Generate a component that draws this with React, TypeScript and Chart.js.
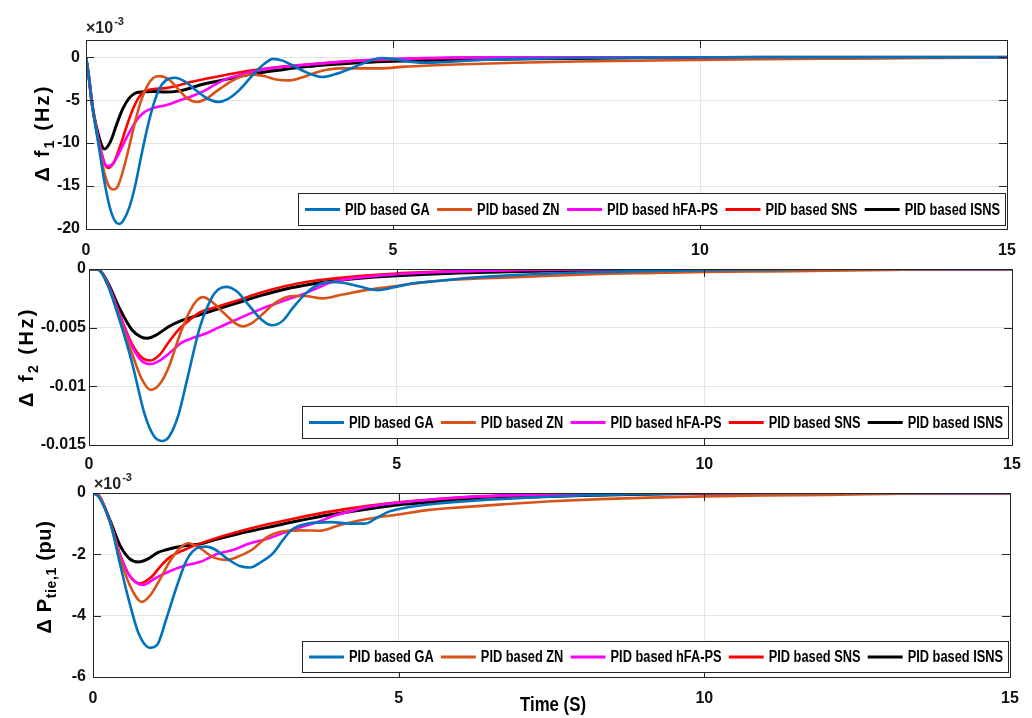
import React, { useEffect, useRef } from "react";
import { Chart, registerables } from "chart.js";

Chart.register(...registerables);

// ---------- Series meta ----------
const SERIES_NAMES = ["PID based GA", "PID based ZN", "PID based hFA-PS", "PID based SNS", "PID based ISNS"];
const SERIES_COLORS = ["#0072BD", "#D95319", "#FF00FF", "#FF0000", "#000000"];

// ---------- Axis ticks ----------
const X_TICKS = [0, 5, 10, 15];
const Y1_TICKS = [-20, -15, -10, -5, 0];
const Y2_TICKS = [-0.015, -0.01, -0.005, 0];
const Y2_TICK_LABELS = ["-0.015", "-0.01", "-0.005", "0"];
const Y3_TICKS = [-6, -4, -2, 0];

// ---------- Plot 1: delta f1 (x10^-3 Hz) ----------
const GA1_T = [0, 0.05, 0.1, 0.2, 0.3, 0.4, 0.5, 0.55, 0.6, 0.7, 0.8, 0.9, 1.0, 1.1, 1.2, 1.3, 1.45, 1.6, 1.8, 2.0, 2.15, 2.3, 2.5, 2.7, 2.9, 3.05, 3.2, 3.4, 3.6, 3.85, 4.05, 4.25, 4.45, 4.65, 4.8, 5.0, 5.3, 5.6, 6.0, 6.5, 7.0, 8.0, 9.0, 10.0, 15.0];
const GA1_V = [0, -2.5, -5.5, -10, -14.5, -17.8, -19.3, -19.4, -19.1, -17.6, -15, -11.5, -8.2, -5.5, -3.6, -2.7, -2.4, -2.8, -3.9, -4.9, -5.2, -4.9, -3.8, -2.2, -0.8, -0.2, -0.4, -1.1, -1.8, -2.3, -2.0, -1.5, -0.9, -0.35, -0.1, -0.2, -0.55, -0.65, -0.5, -0.3, -0.2, -0.1, -0.05, 0, 0];
const ZN1_T = [0, 0.05, 0.1, 0.2, 0.3, 0.38, 0.45, 0.52, 0.6, 0.7, 0.8, 0.9, 1.0, 1.1, 1.2, 1.35, 1.5, 1.65, 1.8, 1.95, 2.1, 2.3, 2.5, 2.7, 2.9, 3.1, 3.3, 3.5, 3.7, 3.9, 4.1, 4.5, 4.8, 5.2, 5.5, 6, 7, 8, 9, 10, 11, 12, 13, 14, 15];
const ZN1_V = [0, -2.5, -5.5, -9.8, -13.5, -15.1, -15.4, -15.0, -13.3, -10.5, -7.5, -5.0, -3.3, -2.4, -2.2, -2.6, -3.7, -4.8, -5.2, -4.9, -4.1, -3.1, -2.3, -2.0, -2.2, -2.6, -2.7, -2.4, -1.9, -1.5, -1.3, -1.3, -1.3, -1.1, -1.0, -0.85, -0.65, -0.5, -0.42, -0.32, -0.23, -0.18, -0.15, -0.08, 0];
const HFA1_T = [0, 0.05, 0.1, 0.2, 0.3, 0.36, 0.45, 0.55, 0.65, 0.75, 0.85, 0.95, 1.1, 1.3, 1.5, 1.7, 1.9, 2.1, 2.3, 2.5, 2.7, 3.0, 3.4, 3.8, 4.2, 4.6, 5.0, 5.5, 6.0, 7.0, 8.0, 15];
const HFA1_V = [0, -2.5, -5.5, -9.5, -12.3, -12.7, -12.3, -11, -9.5, -8.2, -7.1, -6.4, -5.9, -5.6, -5.1, -4.6, -4.0, -3.2, -2.5, -2.1, -1.7, -1.3, -1.0, -0.75, -0.52, -0.33, -0.2, -0.1, -0.05, 0, 0, 0];
const SNS1_T = [0, 0.05, 0.1, 0.2, 0.3, 0.36, 0.45, 0.55, 0.65, 0.75, 0.85, 0.95, 1.1, 1.3, 1.5, 1.7, 2.0, 2.4, 2.8, 3.2, 3.6, 4.0, 4.5, 5.0, 5.5, 6.0, 7.0, 8.0, 15];
const SNS1_V = [0, -2.5, -5.5, -9.5, -12.3, -12.9, -12.3, -10.5, -8.3, -6.3, -4.8, -4.0, -3.7, -3.6, -3.3, -2.9, -2.45, -1.9, -1.45, -1.1, -0.85, -0.62, -0.4, -0.25, -0.15, -0.08, -0.02, 0, 0];
const ISNS1_T = [0, 0.05, 0.1, 0.2, 0.3, 0.4, 0.5, 0.6, 0.7, 0.8, 0.9, 1.1, 1.3, 1.5, 1.7, 1.9, 2.1, 2.4, 2.8, 3.2, 3.6, 4.0, 4.5, 5.0, 5.5, 6.0, 7.0, 8.0, 9.0, 10.0, 11.0, 15];
const ISNS1_V = [0, -2.5, -5.5, -9, -10.7, -9.8, -7.8, -6.0, -4.8, -4.2, -4.05, -4.0, -4.05, -3.95, -3.6, -3.15, -2.85, -2.4, -1.85, -1.45, -1.1, -0.85, -0.62, -0.47, -0.38, -0.3, -0.22, -0.14, -0.08, -0.04, 0, 0];

// ---------- Plot 2: delta f2 (Hz) ----------
const GA2_T = [0, 0.15, 0.3, 0.5, 0.7, 0.9, 1.05, 1.19, 1.3, 1.45, 1.6, 1.8, 2.0, 2.1, 2.23, 2.4, 2.6, 2.8, 2.98, 3.15, 3.3, 3.52, 3.74, 3.95, 4.15, 4.4, 4.7, 5.0, 5.3, 5.7, 6.2, 7, 8, 9, 10, 11, 12, 15];
const GA2_V = [0, -0.00005, -0.0013, -0.0044, -0.008, -0.0123, -0.0142, -0.01466, -0.0143, -0.0125, -0.0093, -0.005, -0.0024, -0.00175, -0.00152, -0.0019, -0.0031, -0.0043, -0.0048, -0.0044, -0.0034, -0.0021, -0.0013, -0.0011, -0.0012, -0.0015, -0.0018, -0.0015, -0.0012, -0.001, -0.00075, -0.0005, -0.0003, -0.00018, -0.0001, -0.00005, 0, 0];
const ZN2_T = [0, 0.15, 0.3, 0.5, 0.7, 0.85, 1.0, 1.15, 1.3, 1.45, 1.6, 1.75, 1.85, 2.0, 2.2, 2.4, 2.5, 2.65, 2.85, 3.05, 3.3, 3.5, 3.8, 4.1, 4.5, 5.0, 5.5, 6.0, 6.7, 7.5, 8.3, 9, 10, 11, 12, 13, 14, 15];
const ZN2_V = [0, -0.00005, -0.0013, -0.0043, -0.0072, -0.0093, -0.0103, -0.0098, -0.0083, -0.006, -0.004, -0.0027, -0.0024, -0.0028, -0.0038, -0.0047, -0.0049, -0.0046, -0.0037, -0.0028, -0.0023, -0.0023, -0.0025, -0.0022, -0.0018, -0.00145, -0.0011, -0.0009, -0.00075, -0.00058, -0.00043, -0.00035, -0.00026, -0.0002, -0.00015, -0.00008, 0, 0];
const HFA2_T = [0, 0.15, 0.3, 0.5, 0.7, 0.85, 1.0, 1.15, 1.3, 1.5, 1.7, 1.9, 2.1, 2.4, 2.8, 3.2, 3.5, 3.7, 3.9, 4.1, 4.5, 5.0, 5.5, 6.0, 7.0, 8.0, 9.0, 15];
const HFA2_V = [0, -0.00005, -0.0012, -0.004, -0.0066, -0.0078, -0.0081, -0.0078, -0.0072, -0.0063, -0.00585, -0.0055, -0.005, -0.0043, -0.0034, -0.00265, -0.0021, -0.00165, -0.0012, -0.00095, -0.00068, -0.00045, -0.0003, -0.0002, -0.00008, -0.00002, 0, 0];
const SNS2_T = [0, 0.15, 0.3, 0.5, 0.7, 0.85, 1.0, 1.15, 1.3, 1.45, 1.6, 1.8, 2.1, 2.4, 2.8, 3.2, 3.6, 4.0, 4.5, 5.0, 5.5, 6.0, 7.0, 8.0, 9.0, 15];
const SNS2_V = [0, -0.00005, -0.0012, -0.0039, -0.0064, -0.0075, -0.0078, -0.0073, -0.0062, -0.0052, -0.0045, -0.0037, -0.0032, -0.0027, -0.002, -0.00145, -0.00105, -0.0008, -0.00055, -0.00038, -0.00027, -0.00018, -0.00008, -0.00003, 0, 0];
const ISNS2_T = [0, 0.15, 0.3, 0.5, 0.7, 0.85, 0.95, 1.1, 1.3, 1.5, 1.8, 2.1, 2.4, 2.8, 3.2, 3.6, 4.0, 4.5, 5.0, 5.5, 6.0, 7.0, 8.0, 9.0, 10.0, 11.0, 15];
const ISNS2_V = [0, -0.00005, -0.0011, -0.0034, -0.0052, -0.0058, -0.0059, -0.0056, -0.0049, -0.0044, -0.0039, -0.0034, -0.0029, -0.00225, -0.0017, -0.0013, -0.001, -0.00075, -0.00058, -0.00045, -0.00035, -0.00022, -0.00013, -0.00007, -0.00002, 0, 0];

// ---------- Plot 3: delta P tie,1 (x10^-3 pu) ----------
const GA3_T = [0, 0.1, 0.28, 0.44, 0.6, 0.75, 0.93, 1.05, 1.2, 1.37, 1.53, 1.7, 1.85, 2.0, 2.2, 2.4, 2.57, 2.75, 2.95, 3.1, 3.25, 3.5, 3.9, 4.2, 4.45, 4.65, 4.85, 5.2, 5.6, 6.0, 7.0, 8.0, 9.0, 10.0, 15];
const GA3_V = [0, -0.15, -0.95, -2.3, -3.6, -4.6, -5.05, -4.95, -4.1, -3.05, -2.2, -1.8, -1.75, -1.85, -2.15, -2.38, -2.43, -2.25, -1.95, -1.55, -1.2, -1.0, -0.95, -1.0, -1.0, -0.8, -0.6, -0.45, -0.35, -0.28, -0.16, -0.08, -0.03, 0, 0];
const ZN3_T = [0, 0.1, 0.28, 0.44, 0.6, 0.8, 0.95, 1.1, 1.25, 1.42, 1.56, 1.75, 1.97, 2.2, 2.4, 2.6, 2.84, 3.05, 3.4, 3.7, 4.04, 4.48, 5.0, 5.5, 6.0, 6.7, 7.5, 8.3, 9.1, 10, 11, 12, 13, 14, 15];
const ZN3_V = [0, -0.1, -0.95, -2.1, -3.0, -3.55, -3.3, -2.8, -2.25, -1.8, -1.64, -1.8, -2.1, -2.18, -2.05, -1.85, -1.45, -1.27, -1.22, -1.23, -1.04, -0.85, -0.7, -0.55, -0.47, -0.37, -0.27, -0.2, -0.15, -0.11, -0.08, -0.06, -0.03, 0, 0];
const HFA3_T = [0, 0.1, 0.28, 0.44, 0.6, 0.82, 1.0, 1.2, 1.53, 1.75, 2.02, 2.3, 2.57, 2.84, 3.12, 3.39, 3.7, 3.93, 4.2, 4.5, 5.0, 5.5, 6.0, 7.0, 8.0, 9.0, 15];
const HFA3_V = [0, -0.1, -0.95, -2.0, -2.7, -3.0, -2.8, -2.6, -2.35, -2.25, -2.0, -1.85, -1.64, -1.5, -1.3, -1.12, -0.93, -0.75, -0.6, -0.45, -0.32, -0.22, -0.14, -0.06, -0.02, 0, 0];
const SNS3_T = [0, 0.1, 0.28, 0.44, 0.6, 0.77, 0.95, 1.1, 1.25, 1.5, 1.75, 2.0, 2.4, 2.84, 3.3, 3.9, 4.5, 5.0, 5.5, 6.0, 7.0, 8.0, 9.0, 15];
const SNS3_V = [0, -0.1, -0.95, -2.0, -2.7, -2.95, -2.75, -2.4, -2.1, -1.85, -1.65, -1.48, -1.25, -1.03, -0.83, -0.6, -0.42, -0.3, -0.22, -0.15, -0.07, -0.03, 0, 0];
const ISNS3_T = [0, 0.1, 0.28, 0.44, 0.6, 0.74, 0.9, 1.05, 1.2, 1.5, 1.75, 2.0, 2.4, 2.84, 3.3, 3.9, 4.5, 5.0, 5.5, 6.0, 7.0, 8.0, 9.0, 10.0, 11.0, 15];
const ISNS3_V = [0, -0.1, -0.9, -1.7, -2.15, -2.25, -2.15, -1.95, -1.85, -1.72, -1.66, -1.52, -1.32, -1.13, -0.93, -0.7, -0.52, -0.38, -0.3, -0.22, -0.14, -0.08, -0.04, -0.01, 0, 0];

// ---------- Styling ----------
const W = 1032;
const H = 718;
const WIDE = "'Liberation Sans', Arial, sans-serif";
const LEGEND_SQUEEZE = 0.8;
const TITLE_SQUEEZE = 0.84;
const AXIS_COLOR = "#262626";
const GRID_COLOR = "#e3e3e3";
const XH = 34;

type Part = { text: string; size: number; dy?: number };
type PlotCfg = {
  left: number; right: number; top: number; bottom: number;
  yMin: number; yMax: number; yTicks: number[]; yLabels?: string[];
  series: [number[], number[]][];
  xPad: number; yPad: number;
  yTitle: Part[]; yTitleX: number; yTitleY: number; yTitleWidth: number;
  exponent?: { x: number; y: number };
  legend: { x: number; y: number; w: number; h: number };
  timeLabel?: { x: number; y: number };
};

const PLOTS: PlotCfg[] = [
  {
    left: 86, right: 1007, top: 40, bottom: 229,
    yMin: -20, yMax: 2, yTicks: Y1_TICKS,
    series: [[GA1_T, GA1_V], [ZN1_T, ZN1_V], [HFA1_T, HFA1_V], [SNS1_T, SNS1_V], [ISNS1_T, ISNS1_V]],
    xPad: 12, yPad: 6,
    yTitle: [{ text: "Δ f", size: 20 }, { text: "1", size: 14, dy: 5 }, { text: " (Hz)", size: 20 }],
    yTitleX: 42, yTitleY: 133, yTitleWidth: 97,
    exponent: { x: 86, y: 33 },
    legend: { x: 298, y: 193, w: 707, h: 32 },
  },
  {
    left: 89, right: 1012, top: 269, bottom: 445,
    yMin: -0.015, yMax: 0, yTicks: Y2_TICKS, yLabels: Y2_TICK_LABELS,
    series: [[GA2_T, GA2_V], [ZN2_T, ZN2_V], [HFA2_T, HFA2_V], [SNS2_T, SNS2_V], [ISNS2_T, ISNS2_V]],
    xPad: 10, yPad: 3,
    yTitle: [{ text: "Δ f", size: 20 }, { text: "2", size: 14, dy: 5 }, { text: " (Hz)", size: 20 }],
    yTitleX: 26, yTitleY: 357, yTitleWidth: 100,
    legend: { x: 302, y: 406, w: 706, h: 32 },
  },
  {
    left: 93, right: 1010, top: 493, bottom: 677,
    yMin: -6, yMax: 0, yTicks: Y3_TICKS,
    series: [[GA3_T, GA3_V], [ZN3_T, ZN3_V], [HFA3_T, HFA3_V], [SNS3_T, SNS3_V], [ISNS3_T, ISNS3_V]],
    xPad: 12, yPad: 7,
    yTitle: [{ text: "Δ P", size: 20 }, { text: "tie,1", size: 14, dy: 5 }, { text: " (pu)", size: 20 }],
    yTitleX: 44, yTitleY: 577, yTitleWidth: 113,
    exponent: { x: 94, y: 489 },
    legend: { x: 302, y: 641, w: 706, h: 31 },
    timeLabel: { x: 553, y: 705 },
  },
];

function drawRich(ctx: CanvasRenderingContext2D, parts: Part[], cx: number, cy: number, target: number) {
  ctx.save();
  ctx.translate(cx, cy);
  ctx.rotate(-Math.PI / 2);
  let natural = 0;
  let chars = 0;
  for (const p of parts) {
    ctx.font = `bold ${p.size}px ${WIDE}`;
    natural += ctx.measureText(p.text).width;
    chars += p.text.length;
  }
  const ls = Math.max(0, (target - natural) / chars);
  (ctx as any).letterSpacing = `${ls}px`;
  let x = -target / 2;
  ctx.fillStyle = "#000";
  ctx.textBaseline = "alphabetic";
  ctx.textAlign = "left";
  for (const p of parts) {
    ctx.font = `bold ${p.size}px ${WIDE}`;
    ctx.fillText(p.text, x, 7 + (p.dy || 0));
    x += ctx.measureText(p.text).width;
  }
  ctx.restore();
}

function squeezedText(ctx: CanvasRenderingContext2D, text: string, x: number, y: number, k: number) {
  ctx.save();
  ctx.translate(x, y);
  ctx.scale(k, 1);
  ctx.fillText(text, 0, 0);
  ctx.restore();
}

function makeDecor(cfg: PlotCfg) {
  return {
    id: "decor",
    afterDatasetsDraw(chart: any) {
      const ctx: CanvasRenderingContext2D = chart.ctx;
      const a = chart.chartArea;
      const xs = chart.scales.x;
      const ys = chart.scales.y;
      ctx.save();
      // inner tick marks
      ctx.strokeStyle = AXIS_COLOR;
      ctx.lineWidth = 1;
      ctx.beginPath();
      for (const t of xs.ticks) {
        const px = Math.round(xs.getPixelForValue(t.value)) + 0.5;
        ctx.moveTo(px, a.bottom); ctx.lineTo(px, a.bottom - 8);
        ctx.moveTo(px, a.top); ctx.lineTo(px, a.top + 8);
      }
      for (const t of ys.ticks) {
        const py = Math.round(ys.getPixelForValue(t.value)) + 0.5;
        ctx.moveTo(a.left, py); ctx.lineTo(a.left + 8, py);
        ctx.moveTo(a.right, py); ctx.lineTo(a.right - 8, py);
      }
      ctx.stroke();
      // box
      ctx.strokeRect(Math.round(a.left) + 0.5, Math.round(a.top) + 0.5, Math.round(a.right - a.left), Math.round(a.bottom - a.top));

      // legend
      const lb = cfg.legend;
      ctx.fillStyle = "#ffffff";
      ctx.fillRect(lb.x, lb.y, lb.w, lb.h);
      ctx.strokeStyle = AXIS_COLOR;
      ctx.strokeRect(lb.x + 0.5, lb.y + 0.5, lb.w, lb.h);
      ctx.font = `bold 16px ${WIDE}`;
      const ds = chart.data.datasets;
      const widths = ds.map((d: any) => ctx.measureText(d.label).width * LEGEND_SQUEEZE);
      const LINE = 35, GAP = 5, PADL = 7, PADR = 5;
      const total = widths.reduce((s: number, w: number) => s + LINE + GAP + w, 0);
      const sp = (lb.w - PADL - PADR - total) / (ds.length - 1);
      let x = lb.x + PADL;
      const cy = lb.y + lb.h / 2 + 0.5;
      ds.forEach((d: any, i: number) => {
        ctx.strokeStyle = d.borderColor;
        ctx.lineWidth = 3;
        ctx.beginPath();
        ctx.moveTo(x, cy); ctx.lineTo(x + LINE, cy);
        ctx.stroke();
        ctx.fillStyle = "#000";
        ctx.textBaseline = "middle";
        ctx.textAlign = "left";
        squeezedText(ctx, d.label, x + LINE + GAP, cy + 1, LEGEND_SQUEEZE);
        x += LINE + GAP + widths[i] + sp;
      });

      // y title
      drawRich(ctx, cfg.yTitle, cfg.yTitleX, cfg.yTitleY, cfg.yTitleWidth);

      // exponent
      if (cfg.exponent) {
        ctx.fillStyle = "#262626";
        ctx.textBaseline = "alphabetic";
        ctx.textAlign = "left";
        ctx.font = `bold 16px ${WIDE}`;
        ctx.fillText("×10", cfg.exponent.x, cfg.exponent.y);
        const w = ctx.measureText("×10").width;
        ctx.font = `bold 11px ${WIDE}`;
        ctx.fillText("-3", cfg.exponent.x + w + 1, cfg.exponent.y - 8);
      }

      // time label
      if (cfg.timeLabel) {
        ctx.fillStyle = "#000";
        ctx.font = `bold 20px ${WIDE}`;
        ctx.textAlign = "center";
        ctx.textBaseline = "middle";
        squeezedText(ctx, "Time (S)", cfg.timeLabel.x, cfg.timeLabel.y, TITLE_SQUEEZE);
      }
      ctx.restore();
    },
  };
}

function buildConfig(cfg: PlotCfg): any {
  const tickFont = { family: WIDE, size: 16, weight: "bold" as const };
  return {
    type: "line",
    data: {
      datasets: cfg.series.map(([t, v], i) => ({
        label: SERIES_NAMES[i],
        data: t.map((tt, k) => ({ x: tt, y: v[k] })),
        borderColor: SERIES_COLORS[i],
        backgroundColor: SERIES_COLORS[i],
        borderWidth: i === 4 ? 3 : 2.6,
        pointRadius: 0,
        cubicInterpolationMode: "monotone",
        fill: false,
      })),
    },
    options: {
      animation: false,
      responsive: false,
      maintainAspectRatio: false,
      devicePixelRatio: 1,
      events: [],
      layout: { padding: { left: 0, top: cfg.top, right: W - cfg.right, bottom: H - cfg.bottom - XH } },
      plugins: { legend: { display: false }, tooltip: { enabled: false }, title: { display: false } },
      scales: {
        x: {
          type: "linear",
          min: 0,
          max: 15,
          afterBuildTicks: (s: any) => { s.ticks = X_TICKS.map((v) => ({ value: v })); },
          afterFit: (s: any) => { s.height = XH; },
          grid: { color: GRID_COLOR, drawTicks: false, lineWidth: 1 },
          border: { display: false },
          ticks: { font: tickFont, color: "#111", padding: cfg.xPad, maxRotation: 0, autoSkip: false, callback: (v: any) => String(v) },
        },
        y: {
          type: "linear",
          min: cfg.yMin,
          max: cfg.yMax,
          afterBuildTicks: (s: any) => { s.ticks = cfg.yTicks.map((v) => ({ value: v })); },
          afterFit: (s: any) => { s.width = cfg.left; },
          grid: { color: GRID_COLOR, drawTicks: false, lineWidth: 1 },
          border: { display: false },
          ticks: {
            font: tickFont,
            color: "#111",
            padding: cfg.yPad,
            autoSkip: false,
            callback: (v: any) => {
              const idx = cfg.yTicks.indexOf(v);
              return cfg.yLabels && idx >= 0 ? cfg.yLabels[idx] : String(v);
            },
          },
        },
      },
    },
    plugins: [makeDecor(cfg)],
  };
}

function PlotCanvas({ cfg }: { cfg: PlotCfg }) {
  const ref = useRef<HTMLCanvasElement>(null);
  useEffect(() => {
    if (!ref.current) return;
    const chart = new Chart(ref.current, buildConfig(cfg));
    return () => chart.destroy();
  }, [cfg]);
  return (
    <canvas
      ref={ref}
      width={W}
      height={H}
      style={{ position: "absolute", left: 0, top: 0, width: W, height: H }}
    />
  );
}

export default function App() {
  return (
    <div style={{ position: "absolute", left: 0, top: 0, width: W, height: H, background: "#fff", overflow: "hidden" }}>
      {PLOTS.map((p, i) => (
        <PlotCanvas key={i} cfg={p} />
      ))}
    </div>
  );
}
